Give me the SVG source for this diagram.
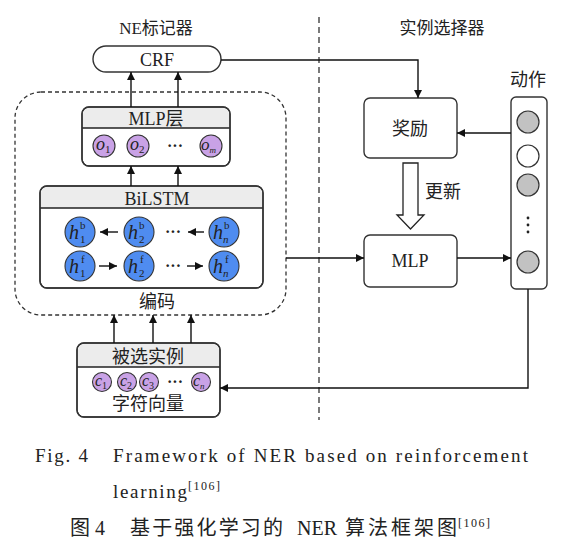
<svg xmlns="http://www.w3.org/2000/svg" width="574" height="544" viewBox="0 0 574 544" font-family="'Liberation Serif', 'Times New Roman', 'DejaVu Serif', 'Noto Sans CJK SC', serif">
<defs>
<marker id="ah" viewBox="0 0 10 10" refX="10" refY="5" markerWidth="8" markerHeight="8" markerUnits="userSpaceOnUse" orient="auto">
<path d="M0,0 L10,5 L0,10 Z" fill="#111"/>
</marker>
<style>
text{font-family:'Liberation Serif','Times New Roman','DejaVu Serif','Noto Sans CJK SC',serif;fill:#222}
.lbl{font-size:18px;text-anchor:middle}
.box{fill:#fff;stroke:#333;stroke-width:1.4}
.hdr{fill:#ececec;stroke:none}
.ln{fill:none;stroke:#222;stroke-width:1.4}
.ar{fill:none;stroke:#111;stroke-width:1.4;marker-end:url(#ah)}
.pc{fill:#c9a2e6;stroke:#333;stroke-width:1.1}
.bc{fill:#4f8cf0;stroke:#333;stroke-width:1.1}
.gc{fill:#c2c2c2;stroke:#333;stroke-width:1.2}
.wc{fill:#fff;stroke:#333;stroke-width:1.2}
.it{font-style:italic}
.cap{font-size:19px}
</style>
</defs>
<rect width="574" height="544" fill="#fff"/>

<text class="lbl" x="156" y="34" style="font-size:17px">NE标记器</text>
<text class="lbl" x="442" y="34" style="font-size:17px">实例选择器</text>
<line x1="319" y1="17" x2="319" y2="420" stroke="#333" stroke-width="1.3" stroke-dasharray="6,4"/>

<g id="encoder">
<rect x="15" y="92" width="271" height="223" rx="26" fill="none" stroke="#333" stroke-width="1.3" stroke-dasharray="4,3"/>
<text class="lbl" x="157" y="308">编码</text>
</g>

<g id="crf">
<rect class="box" x="93" y="46" width="128" height="26" rx="13"/>
<text class="lbl" x="157" y="66">CRF</text>
</g>

<g id="mlp-layer">
<rect class="box" x="82" y="107" width="148" height="59" rx="7"/>
<path class="hdr" d="M83,128 V114 a6,6 0 0 1 6,-6 H223 a6,6 0 0 1 6,6 V128 Z"/>
<line class="ln" x1="82" y1="128" x2="230" y2="128"/>
<rect x="82" y="107" width="148" height="59" rx="7" fill="none" stroke="#333" stroke-width="1.4"/>
<text class="lbl" x="156" y="125">MLP层</text>
<circle class="pc" cx="104" cy="146" r="11"/>
<circle class="pc" cx="138" cy="146" r="11"/>
<circle class="pc" cx="211" cy="146" r="11"/>
<text x="96" y="150" class="it" font-size="18">o<tspan font-size="11" font-style="normal" dy="3">1</tspan></text>
<text x="130" y="150" class="it" font-size="18">o<tspan font-size="11" font-style="normal" dy="3">2</tspan></text>
<text x="201" y="150" class="it" font-size="17">o<tspan font-size="9" dy="3">m</tspan></text>
<text x="175" y="151" font-size="16" font-weight="bold" text-anchor="middle">···</text>
</g>

<g id="bilstm">
<rect class="box" x="40" y="186" width="223" height="102" rx="7"/>
<path class="hdr" d="M41,208 V193 a6,6 0 0 1 6,-6 H256 a6,6 0 0 1 6,6 V208 Z"/>
<line class="ln" x1="40" y1="208" x2="263" y2="208"/>
<rect x="40" y="186" width="223" height="102" rx="7" fill="none" stroke="#333" stroke-width="1.4"/>
<text class="lbl" x="157" y="205">BiLSTM</text>
<circle class="bc" cx="80" cy="232" r="15"/>
<circle class="bc" cx="139" cy="232" r="15"/>
<circle class="bc" cx="224" cy="232" r="15"/>
<circle class="bc" cx="80" cy="266" r="15"/>
<circle class="bc" cx="139" cy="266" r="15"/>
<circle class="bc" cx="224" cy="266" r="15"/>
<text x="69" y="239" class="it" font-size="20">h</text><text x="80" y="229" font-size="11">b</text><text x="80" y="243" font-size="11">1</text>
<text x="128" y="239" class="it" font-size="20">h</text><text x="139" y="229" font-size="11">b</text><text x="139" y="243" font-size="11">2</text>
<text x="213" y="239" class="it" font-size="20">h</text><text x="224" y="229" font-size="11">b</text><text x="223" y="243" class="it" font-size="11">n</text>
<text x="69" y="273" class="it" font-size="20">h</text><text x="81" y="263" font-size="11">f</text><text x="80" y="277" font-size="11">1</text>
<text x="128" y="273" class="it" font-size="20">h</text><text x="140" y="263" font-size="11">f</text><text x="139" y="277" font-size="11">2</text>
<text x="213" y="273" class="it" font-size="20">h</text><text x="225" y="263" font-size="11">f</text><text x="223" y="277" class="it" font-size="11">n</text>
<text x="173" y="237" font-size="16" font-weight="bold" text-anchor="middle">···</text>
<text x="173" y="271" font-size="16" font-weight="bold" text-anchor="middle">···</text>
</g>

<g id="candidate">
<rect class="box" x="77" y="343" width="143" height="74" rx="7"/>
<path class="hdr" d="M78,367 V350 a6,6 0 0 1 6,-6 H213 a6,6 0 0 1 6,6 V367 Z"/>
<line class="ln" x1="77" y1="367" x2="220" y2="367"/>
<rect x="77" y="343" width="143" height="74" rx="7" fill="none" stroke="#333" stroke-width="1.4"/>
<text class="lbl" x="148" y="363">被选实例</text>
<circle class="pc" cx="102" cy="382" r="9.5"/>
<circle class="pc" cx="127" cy="382" r="9.5"/>
<circle class="pc" cx="149" cy="382" r="9.5"/>
<circle class="pc" cx="201" cy="382" r="9.5"/>
<text x="95" y="386" class="it" font-size="16">c<tspan font-size="10" font-style="normal" dy="3">1</tspan></text>
<text x="120" y="386" class="it" font-size="16">c<tspan font-size="10" font-style="normal" dy="3">2</tspan></text>
<text x="142" y="386" class="it" font-size="16">c<tspan font-size="10" font-style="normal" dy="3">3</tspan></text>
<text x="193" y="386" class="it" font-size="16">c<tspan font-size="9" dy="3">n</tspan></text>
<text x="175" y="387" font-size="16" font-weight="bold" text-anchor="middle">···</text>
<text class="lbl" x="148" y="410">字符向量</text>
</g>

<g id="reward">
<rect class="box" x="364" y="98" width="93" height="60" rx="6"/>
<text class="lbl" x="410" y="135">奖励</text>
</g>

<g id="mlp">
<rect class="box" x="364" y="235" width="93" height="52" rx="6"/>
<text class="lbl" x="410" y="267">MLP</text>
</g>

<g id="action">
<text class="lbl" x="528" y="86">动作</text>
<rect class="box" x="511" y="97" width="36" height="192" rx="5"/>
<circle class="gc" cx="528" cy="122" r="11"/>
<circle class="wc" cx="528" cy="156" r="11"/>
<circle class="gc" cx="528" cy="185" r="11"/>
<circle cx="528" cy="218" r="1.4" fill="#222"/>
<circle cx="528" cy="225" r="1.4" fill="#222"/>
<circle cx="528" cy="232" r="1.4" fill="#222"/>
<circle class="gc" cx="528" cy="262" r="11"/>
</g>

<g id="connectors">
<line class="ar" x1="131" y1="107" x2="131" y2="72"/>
<line class="ar" x1="178" y1="107" x2="178" y2="72"/>
<line class="ar" x1="131" y1="186" x2="131" y2="166"/>
<line class="ar" x1="178" y1="186" x2="178" y2="166"/>
<line class="ar" x1="114" y1="343" x2="114" y2="315"/>
<line class="ar" x1="153" y1="343" x2="153" y2="315"/>
<line class="ar" x1="191" y1="343" x2="191" y2="315"/>
<line class="ar" x1="118" y1="232" x2="100" y2="232"/>
<line class="ar" x1="204" y1="232" x2="188" y2="232"/>
<line class="ar" x1="99" y1="266" x2="117" y2="266"/>
<line class="ar" x1="187" y1="266" x2="203" y2="266"/>
<polyline class="ar" points="221,60 418,60 418,98"/>
<line class="ar" x1="511" y1="133" x2="457" y2="133"/>
<line class="ar" x1="286" y1="258" x2="364" y2="258"/>
<line class="ar" x1="457" y1="258" x2="511" y2="258"/>
<polyline class="ar" points="528,289 528,388 220,388"/>
<path d="M403,163 L418,163 L418,215 L424,215 L410.5,229 L397,215 L403,215 Z" fill="#fff" stroke="#222" stroke-width="1.3"/>
<text x="425" y="198" font-size="18">更新</text>
</g>

<text class="cap" x="35" y="462" textLength="53" lengthAdjust="spacing">Fig. 4</text>
<text class="cap" x="113" y="462" textLength="415" lengthAdjust="spacing">Framework of NER based on reinforcement</text>
<text class="cap" x="113" y="498" textLength="74" lengthAdjust="spacing">learning</text>
<text x="188" y="490" font-size="12" textLength="32" lengthAdjust="spacing">[106]</text>
<text x="70" y="535" font-size="20" textLength="35" lengthAdjust="spacing">图 4</text>
<text x="130" y="535" font-size="20" textLength="153" lengthAdjust="spacing">基于强化学习的</text>
<text x="297" y="535" font-size="20" textLength="40" lengthAdjust="spacing">NER</text>
<text x="345" y="535" font-size="20" textLength="112" lengthAdjust="spacing">算法框架图</text>
<text x="458" y="527" font-size="12" textLength="32" lengthAdjust="spacing">[106]</text>
</svg>
